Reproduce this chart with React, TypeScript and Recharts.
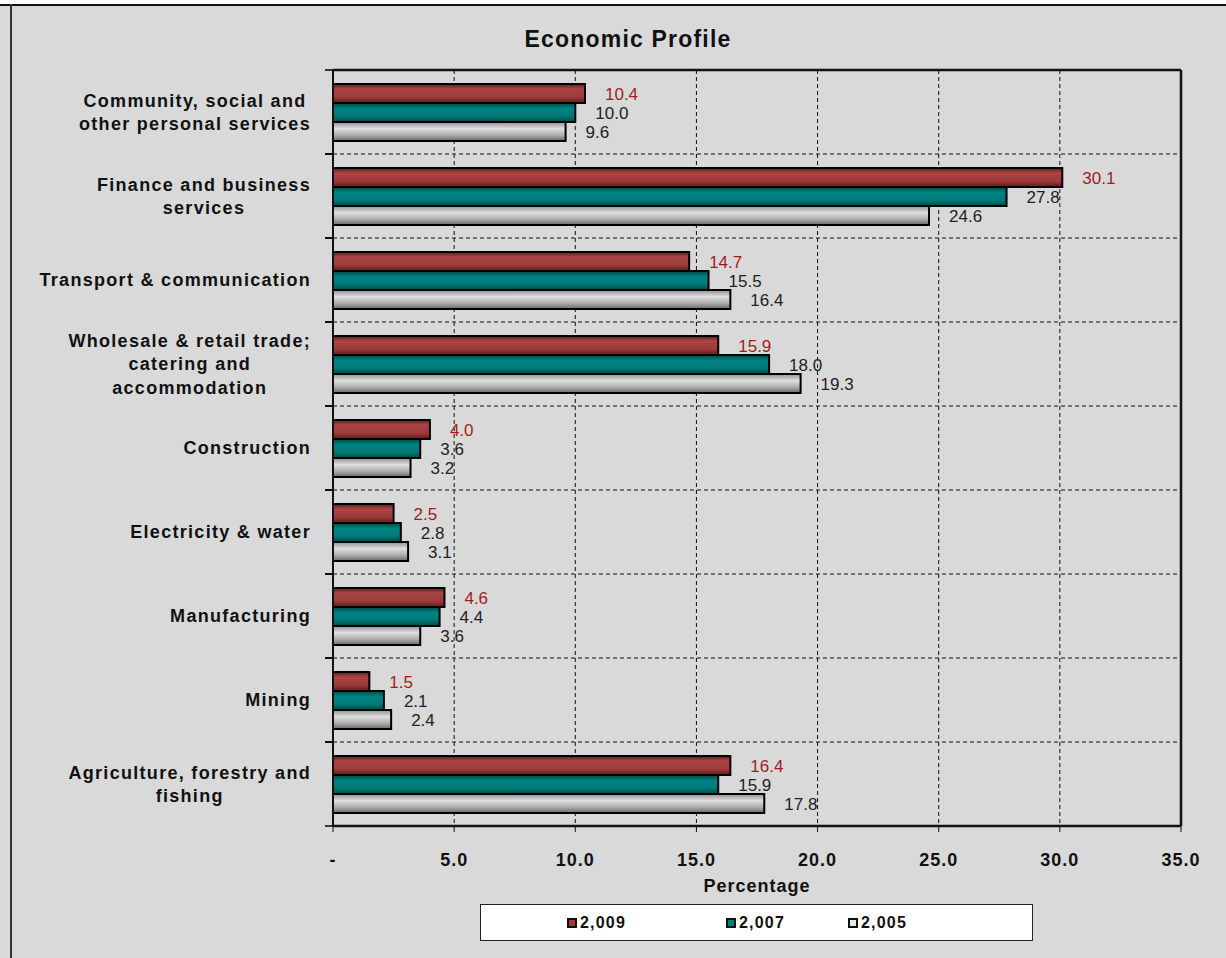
import React from "react";
import {
  BarChart,
  Bar,
  XAxis,
  YAxis,
  CartesianGrid,
  LabelList,
  Legend,
  Label,
  ReferenceLine,
} from "recharts";

const categories = [
  "Community, social and\nother personal services",
  "Finance and business\nservices",
  "Transport & communication",
  "Wholesale & retail trade;\ncatering and\naccommodation",
  "Construction",
  "Electricity & water",
  "Manufacturing",
  "Mining",
  "Agriculture, forestry and\nfishing",
];
const values2009 = [10.4, 30.1, 14.7, 15.9, 4.0, 2.5, 4.6, 1.5, 16.4];
const values2007 = [10.0, 27.8, 15.5, 18.0, 3.6, 2.8, 4.4, 2.1, 15.9];
const values2005 = [9.6, 24.6, 16.4, 19.3, 3.2, 3.1, 3.6, 2.4, 17.8];
const seriesNames = ["2,009", "2,007", "2,005"];
const xTicks = [0, 5, 10, 15, 20, 25, 30, 35];
const chartTitle = "Economic Profile";
const xAxisTitle = "Percentage";

const data = categories.map((name, i) => ({
  name,
  y2009: values2009[i],
  y2007: values2007[i],
  y2005: values2005[i],
}));

const W = 1226;
const H = 958;
const PLOT_TOP = 70;
const PLOT_BOTTOM = 826;
const PLOT_LEFT = 333;
const PLOT_RIGHT = 1181;
const BAND = (PLOT_BOTTOM - PLOT_TOP) / categories.length;
const FONT = '"Liberation Sans", Arial, sans-serif';
const CAT_FONT_SIZE = 18;
const CAT_LS = 1.3;

let measureCtx: CanvasRenderingContext2D | null = null;
function measure(text: string): number {
  if (!measureCtx) {
    const c = document.createElement("canvas");
    measureCtx = c.getContext("2d");
  }
  if (!measureCtx) return text.length * 10;
  measureCtx.font = `bold ${CAT_FONT_SIZE}px "Liberation Sans"`;
  return measureCtx.measureText(text).width + text.length * CAT_LS;
}

function CategoryTick(props: any) {
  const { x, y, payload } = props;
  const lines = String(payload.value).split("\n");
  const maxW = Math.max(...lines.map(measure));
  const cx = x - 22 - maxW / 2;
  const lh = 23.5;
  const startY = y - ((lines.length - 1) * lh) / 2;
  return (
    <g>
      <line x1={x - 8} x2={x} y1={y - BAND / 2} y2={y - BAND / 2} stroke="#000" strokeWidth={1.5} />
      <line x1={x - 8} x2={x} y1={y + BAND / 2} y2={y + BAND / 2} stroke="#000" strokeWidth={1.5} />
      <text
        textAnchor="middle"
        fontFamily={FONT}
        fontWeight="bold"
        fontSize={CAT_FONT_SIZE}
        fill="#111"
        style={{ letterSpacing: `${CAT_LS}px` }}
      >
        {lines.map((l, i) => (
          <tspan key={i} x={cx} y={startY + i * lh} dy="0.35em">
            {l}
          </tspan>
        ))}
      </text>
    </g>
  );
}

function XTick(props: any) {
  const { x, payload } = props;
  const v = Number(payload.value);
  return (
    <text
      x={x}
      y={860}
      dy="0.35em"
      textAnchor="middle"
      fontFamily={FONT}
      fontWeight="bold"
      fontSize={18}
      fill="#111"
      style={{ letterSpacing: "1px" }}
    >
      {v === 0 ? "-" : v.toFixed(1)}
    </text>
  );
}

const legendFills = ["#a33a3a", "#008080", "#e8e8e8"];
const legendLefts = [86, 245, 367];

function LegendContent() {
  return (
    <div
      style={{
        width: "100%",
        height: "100%",
        boxSizing: "border-box",
        background: "#fff",
        border: "1.5px solid #222",
        position: "relative",
        fontFamily: FONT,
        fontWeight: "bold",
        fontSize: 16,
        color: "#111",
      }}
    >
      {seriesNames.map((n, i) => (
        <div
          key={n}
          style={{
            position: "absolute",
            left: legendLefts[i],
            top: 0,
            height: "100%",
            display: "flex",
            alignItems: "center",
            letterSpacing: "1.2px",
          }}
        >
          <span
            style={{
              display: "inline-block",
              width: 6,
              height: 6,
              border: "2px solid #111",
              background: legendFills[i],
              marginRight: 3,
            }}
          />
          {n}
        </div>
      ))}
    </div>
  );
}

const fmt = (v: any) => Number(v).toFixed(1);
const solid = { stroke: "#111", strokeWidth: 2.5 };

export default function App() {
  return (
    <div
      style={{
        position: "absolute",
        left: 0,
        top: 0,
        width: W,
        height: H,
        background: "#fff",
        overflow: "hidden",
      }}
    >
      <div
        style={{
          position: "absolute",
          left: 0,
          top: 4,
          width: W,
          height: H - 4,
          background: "#d9d9d9",
          borderTop: "2px solid #111",
          boxSizing: "border-box",
        }}
      />
      <div
        style={{
          position: "absolute",
          left: 10,
          top: 4,
          width: 2,
          height: H - 4,
          background: "#333",
        }}
      />
      <div
        style={{
          position: "absolute",
          left: 428,
          width: 400,
          top: 26,
          textAlign: "center",
          fontFamily: FONT,
          fontWeight: "bold",
          fontSize: 23,
          letterSpacing: "1.2px",
          color: "#111",
        }}
      >
        {chartTitle}
      </div>
      <div style={{ position: "absolute", left: 0, top: 0 }}>
        <BarChart
          width={W}
          height={H}
          data={data}
          layout="vertical"
          margin={{ top: PLOT_TOP, right: W - PLOT_RIGHT, bottom: H - PLOT_BOTTOM - 40, left: 0 }}
          barCategoryGap="16.7%"
          barGap={0}
        >
          <defs>
            <linearGradient id="gRed" x1="0" y1="0" x2="0" y2="1">
              <stop offset="0%" stopColor="#6a1414" />
              <stop offset="25%" stopColor="#a84646" />
              <stop offset="70%" stopColor="#9c3a3a" />
              <stop offset="100%" stopColor="#6a1414" />
            </linearGradient>
            <linearGradient id="gTeal" x1="0" y1="0" x2="0" y2="1">
              <stop offset="0%" stopColor="#004848" />
              <stop offset="30%" stopColor="#008484" />
              <stop offset="70%" stopColor="#007878" />
              <stop offset="100%" stopColor="#004848" />
            </linearGradient>
            <linearGradient id="gGrey" x1="0" y1="0" x2="0" y2="1">
              <stop offset="0%" stopColor="#909090" />
              <stop offset="35%" stopColor="#dedede" />
              <stop offset="70%" stopColor="#acacac" />
              <stop offset="100%" stopColor="#686868" />
            </linearGradient>
          </defs>
          <CartesianGrid
            stroke="#111"
            strokeDasharray="4 3"
            strokeWidth={1}
            horizontalCoordinatesGenerator={(p: any) => {
              const top = p.offset.top;
              const h = p.offset.height;
              const n = categories.length;
              const out: number[] = [];
              for (let i = 1; i < n; i++) out.push(top + (i * h) / n);
              return out;
            }}
          />
          <XAxis
            type="number"
            domain={[0, 35]}
            ticks={xTicks}
            interval={0}
            height={40}
            axisLine={solid}
            tickLine={{ stroke: "#111", strokeWidth: 1 }}
            tickSize={6}
            tick={<XTick />}
          >
            <Label
              value={xAxisTitle}
              position="bottom"
              offset={13}
              style={{
                fontFamily: FONT,
                fontWeight: "bold",
                fontSize: 18,
                fill: "#111",
                letterSpacing: "1px",
              }}
            />
          </XAxis>
          <YAxis
            type="category"
            dataKey="name"
            width={PLOT_LEFT}
            interval={0}
            tickSize={0}
            tickMargin={0}
            tickLine={false}
            axisLine={{ stroke: "#111", strokeWidth: 2 }}
            tick={<CategoryTick />}
          />
          <ReferenceLine x={35} {...solid} />
          <ReferenceLine y={categories[0]} position="start" {...solid} />
          <Legend
            layout="horizontal"
            verticalAlign="middle"
            align="center"
            content={<LegendContent />}
            wrapperStyle={{ position: "absolute", left: 480, top: 904, width: 553, height: 37 }}
          />
          <Bar dataKey="y2009" name={seriesNames[0]} fill="url(#gRed)" stroke="#000" strokeWidth={2} isAnimationActive={false}>
            <LabelList
              dataKey="y2009"
              position="right"
              offset={20}
              formatter={fmt}
              style={{ fill: "#a01c1c", fontFamily: FONT, fontSize: 17 }}
            />
          </Bar>
          <Bar dataKey="y2007" name={seriesNames[1]} fill="url(#gTeal)" stroke="#000" strokeWidth={2} isAnimationActive={false}>
            <LabelList
              dataKey="y2007"
              position="right"
              offset={20}
              formatter={fmt}
              style={{ fill: "#222", fontFamily: FONT, fontSize: 17 }}
            />
          </Bar>
          <Bar dataKey="y2005" name={seriesNames[2]} fill="url(#gGrey)" stroke="#000" strokeWidth={2} isAnimationActive={false}>
            <LabelList
              dataKey="y2005"
              position="right"
              offset={20}
              formatter={fmt}
              style={{ fill: "#222", fontFamily: FONT, fontSize: 17 }}
            />
          </Bar>
        </BarChart>
      </div>
    </div>
  );
}
